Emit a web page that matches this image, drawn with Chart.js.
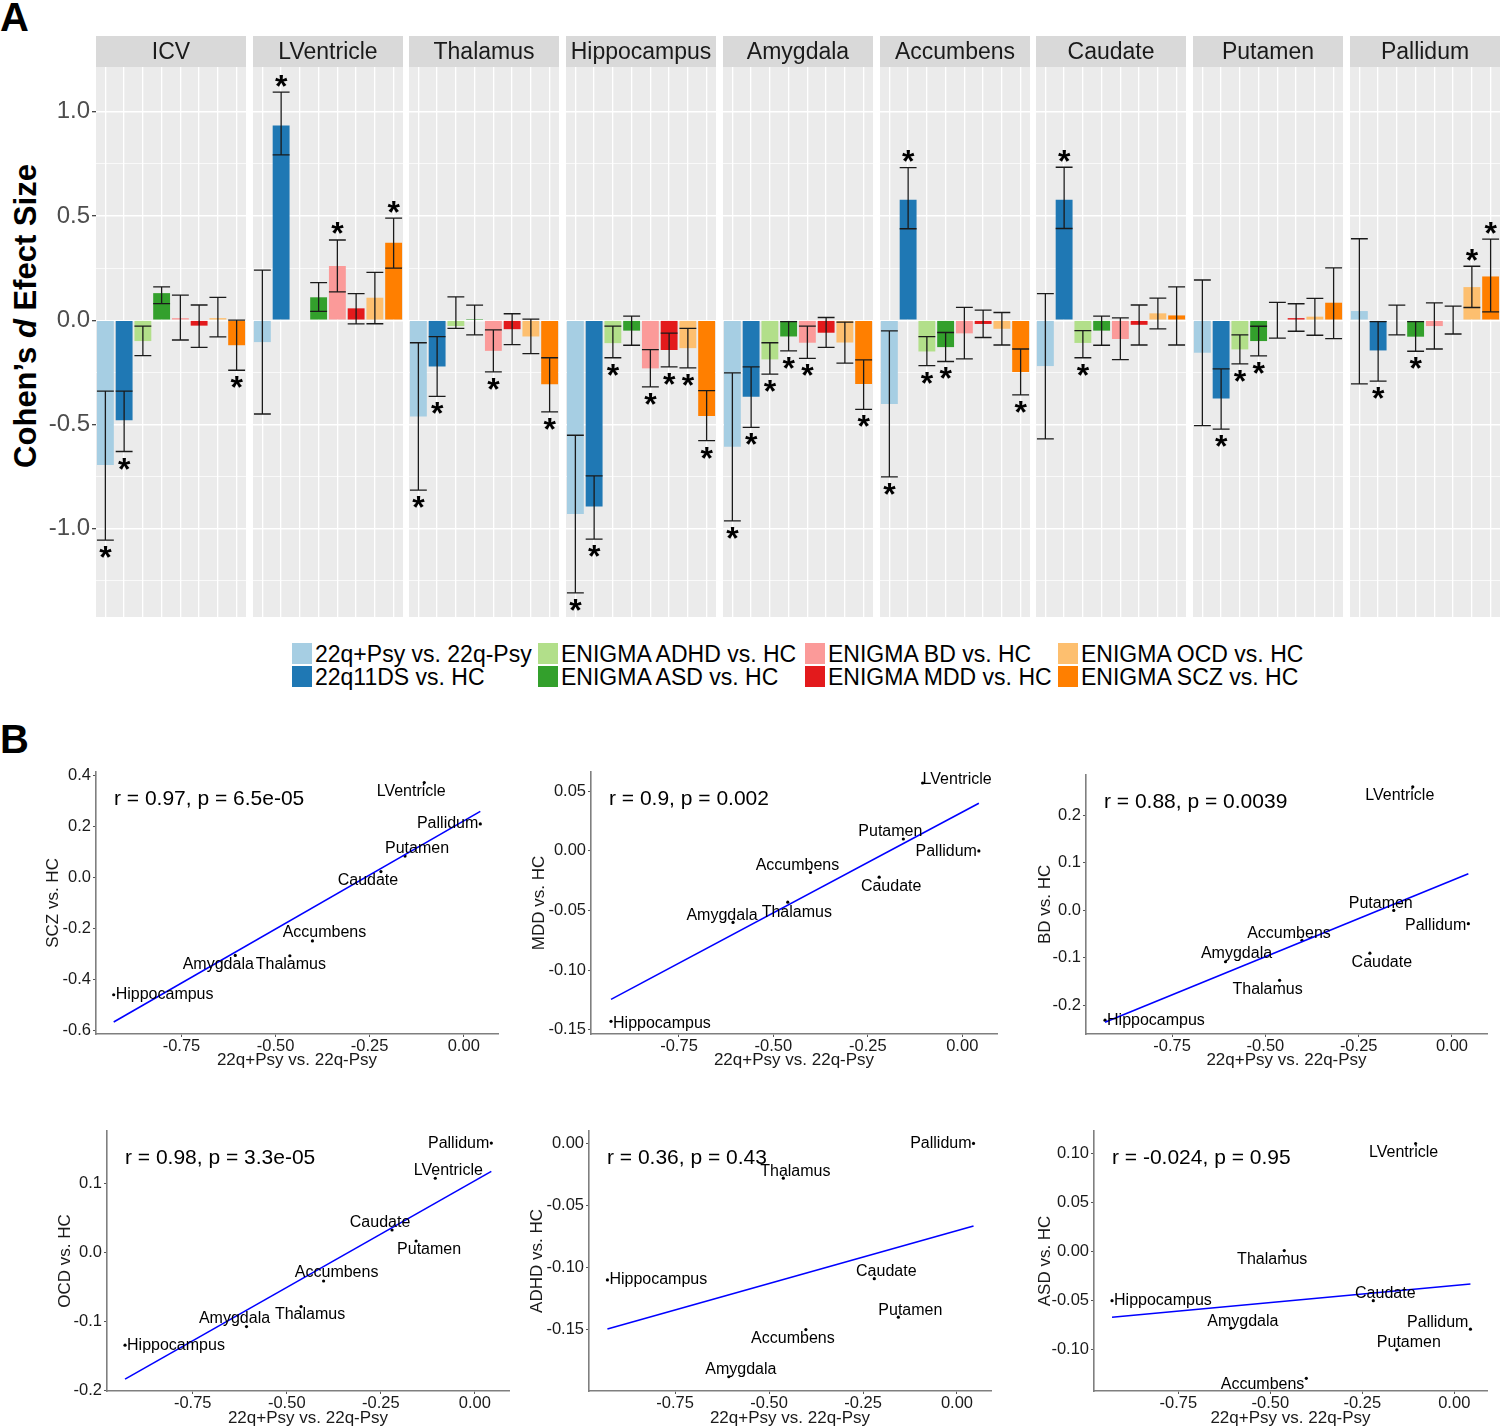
<!DOCTYPE html>
<html>
<head>
<meta charset="utf-8">
<script src="https://cdn.jsdelivr.net/npm/chart.js@4.4.1/dist/chart.umd.min.js"></script>
<style>
body { margin: 0; background: #fff; font-family: "Liberation Sans", Arial, sans-serif; }
#page { position: relative; width: 1500px; height: 1428px; overflow: hidden; background: #fff; }
canvas { position: absolute; }
.txt { position: absolute; white-space: nowrap; color: #000; }
.panel { font-weight: bold; font-size: 40px; }
.ytitle { font-weight: bold; font-size: 31px; transform: translate(-50%, -50%) rotate(-90deg); }
.key { position: absolute; width: 20px; height: 21px; }
.legtxt { position: absolute; font-size: 23px; line-height: 21px; white-space: nowrap; color: #000; }
</style>
</head>
<body>
<div id="page">
  <div class="txt panel" style="left:0px; top:-5px;">A</div>
  <div class="txt panel" style="left:0px; top:717px;">B</div>
  <div class="txt ytitle" style="left:26px; top:316px;">Cohen’s <i>d</i> Efect Size</div>
</div>
<script>
Chart.defaults.font.family = '"Liberation Sans", Arial, sans-serif';

// ---- data ----
const regions = ['ICV', 'LVentricle', 'Thalamus', 'Hippocampus', 'Amygdala', 'Accumbens', 'Caudate', 'Putamen', 'Pallidum'];
const groups = ['22q+Psy vs. 22q-Psy', '22q11DS vs. HC', 'ENIGMA ADHD vs. HC', 'ENIGMA ASD vs. HC',
                'ENIGMA BD vs. HC', 'ENIGMA MDD vs. HC', 'ENIGMA OCD vs. HC', 'ENIGMA SCZ vs. HC'];
const colors = ['#A6CEE3', '#1F78B4', '#B2DF8A', '#33A02C', '#FB9A99', '#E31A1C', '#FDBF6F', '#FF7F00'];

// Cohen's d per region (same order as regions)
const psyD  = [-0.695, -0.105, -0.462, -0.930, -0.607, -0.402, -0.220, -0.156, 0.044];
const delD  = [-0.480, 0.934, -0.222, -0.894, -0.367, 0.578, 0.578, -0.376, -0.145];
const adhdD = [-0.100, null, -0.028, -0.110, -0.188, -0.150, -0.109, -0.140, 0.000];
const asdD  = [0.130, 0.110, 0.001, -0.050, -0.078, -0.129, -0.050, -0.100, -0.079];
const bdD   = [0.010, 0.260, -0.147, -0.231, -0.108, -0.063, -0.090, 0.000, -0.028];
const mddD  = [-0.026, 0.057, -0.043, -0.143, -0.060, -0.018, -0.022, 0.010, 0.000];
const ocdD  = [0.010, 0.108, -0.078, -0.134, -0.107, -0.041, 0.033, 0.017, 0.159];
const sczD  = [-0.120, 0.372, -0.307, -0.460, -0.306, -0.249, 0.023, 0.084, 0.210];

// error bar limits
const psyLo  = [-1.055, -0.450, -0.815, -1.308, -0.963, -0.752, -0.569, -0.506, -0.305];
const psyHi  = [-0.340, 0.240, -0.108, -0.552, -0.253, -0.051, 0.128, 0.193, 0.391];
const delLo  = [-0.630, 0.793, -0.365, -1.050, -0.514, 0.439, 0.440, -0.523, -0.292];
const delHi  = [-0.340, 1.094, -0.079, -0.747, -0.224, 0.732, 0.734, -0.233, -0.007];
const adhdLo = [-0.170, null, -0.039, -0.180, -0.259, -0.218, -0.180, -0.209, -0.070];
const adhdHi = [-0.028, null, 0.112, -0.028, -0.108, -0.079, -0.050, -0.070, 0.072];
const asdLo  = [0.080, 0.042, -0.070, -0.120, -0.147, -0.198, -0.120, -0.171, -0.149];
const asdHi  = [0.160, 0.180, 0.072, 0.020, -0.007, -0.059, 0.020, -0.029, -0.007];
const bdLo   = [-0.095, 0.136, -0.248, -0.320, -0.183, -0.185, -0.189, -0.086, -0.138];
const bdHi   = [0.120, 0.385, -0.046, -0.141, -0.028, 0.062, 0.011, 0.086, 0.083];
const mddLo  = [-0.130, -0.018, -0.117, -0.224, -0.130, -0.083, -0.119, -0.053, -0.066];
const mddHi  = [0.073, 0.128, 0.031, -0.062, 0.013, 0.048, 0.073, 0.079, 0.068];
const ocdLo  = [-0.080, -0.017, -0.160, -0.229, -0.206, -0.119, -0.042, -0.072, 0.061];
const ocdHi  = [0.110, 0.230, 0.005, -0.039, -0.009, 0.037, 0.106, 0.105, 0.259];
const sczLo  = [-0.240, 0.250, -0.440, -0.578, -0.428, -0.358, -0.119, -0.088, 0.040];
const sczHi  = [0.000, 0.490, -0.180, -0.338, -0.190, -0.138, 0.160, 0.251, 0.389];

// significance (asterisk)
const psySig  = [1, 0, 1, 1, 1, 1, 0, 0, 0];
const delSig  = [1, 1, 1, 1, 1, 1, 1, 1, 1];
const adhdSig = [0, 0, 0, 1, 1, 1, 1, 1, 0];
const asdSig  = [0, 0, 0, 0, 1, 1, 0, 1, 1];
const bdSig   = [0, 1, 1, 1, 1, 0, 0, 0, 0];
const mddSig  = [0, 0, 0, 1, 0, 0, 0, 0, 0];
const ocdSig  = [0, 0, 0, 1, 0, 0, 0, 0, 1];
const sczSig  = [1, 1, 1, 1, 1, 1, 0, 0, 1];

const barTicks = [-1.25, -1, -0.75, -0.5, -0.25, 0, 0.25, 0.5, 0.75, 1];

// scatter panel ticks
const xTicksB = [-0.75, -0.5, -0.25, 0];
const sczTicks  = [-0.6, -0.4, -0.2, 0, 0.2, 0.4];
const mddTicks  = [-0.15, -0.1, -0.05, 0, 0.05];
const bdTicks   = [-0.2, -0.1, 0, 0.1, 0.2];
const ocdTicks  = [-0.2, -0.1, 0, 0.1];
const adhdTicks = [-0.15, -0.1, -0.05, 0];
const asdTicks  = [-0.1, -0.05, 0, 0.05, 0.1];

const effects = [psyD, delD, adhdD, asdD, bdD, mddD, ocdD, sczD];
const lows = [psyLo, delLo, adhdLo, asdLo, bdLo, mddLo, ocdLo, sczLo];
const highs = [psyHi, delHi, adhdHi, asdHi, bdHi, mddHi, ocdHi, sczHi];
const sigs = [psySig, delSig, adhdSig, asdSig, bdSig, mddSig, ocdSig, sczSig];

const page = document.getElementById('page');
const FONT = '"Liberation Sans", Arial, sans-serif';

// ---- panel A: facets ----
const stripPlugin = {
  id: 'strip',
  beforeDraw(chart, args, opts) {
    const { ctx, chartArea: a } = chart;
    ctx.save();
    ctx.fillStyle = '#EBEBEB';
    ctx.fillRect(a.left, a.top, a.right - a.left, a.bottom - a.top);
    ctx.fillStyle = '#D9D9D9';
    ctx.fillRect(a.left, a.top - 31, a.right - a.left, 31);
    ctx.fillStyle = '#1A1A1A';
    ctx.font = '23px ' + FONT;
    ctx.textAlign = 'center';
    ctx.textBaseline = 'middle';
    ctx.fillText(opts.text, (a.left + a.right) / 2, a.top - 14);
    ctx.restore();
  }
};

const errPlugin = {
  id: 'errbars',
  afterDatasetsDraw(chart, args, opts) {
    const { ctx, scales: { x, y } } = chart;
    const half = 0.45 * (x.getPixelForValue(1) - x.getPixelForValue(0));
    ctx.save();
    ctx.strokeStyle = '#1A1A1A';
    ctx.lineWidth = 1.3;
    opts.lo.forEach((lo, j) => {
      const hi = opts.hi[j];
      if (lo == null || hi == null) return;
      const cx = x.getPixelForValue(j);
      const y0 = y.getPixelForValue(lo), y1 = y.getPixelForValue(hi);
      ctx.beginPath();
      ctx.moveTo(cx, y0); ctx.lineTo(cx, y1);
      ctx.moveTo(cx - half, y0); ctx.lineTo(cx + half, y0);
      ctx.moveTo(cx - half, y1); ctx.lineTo(cx + half, y1);
      ctx.stroke();
    });
    // asterisks
    ctx.fillStyle = '#000';
    ctx.font = 'bold 32px ' + FONT;
    ctx.textAlign = 'center';
    ctx.textBaseline = 'alphabetic';
    const m = ctx.measureText('*');
    const shift = (m.actualBoundingBoxAscent - m.actualBoundingBoxDescent) / 2;
    opts.sig.forEach((s, j) => {
      if (!s) return;
      const cx = x.getPixelForValue(j);
      const cy = opts.d[j] >= 0 ? y.getPixelForValue(opts.hi[j]) - 11.5 : y.getPixelForValue(opts.lo[j]) + 12;
      ctx.fillText('*', cx, cy + shift);
    });
    ctx.restore();
  }
};

const isMajor = v => Math.abs(v * 2 - Math.round(v * 2)) < 1e-6;

regions.forEach((reg, i) => {
  const left = Math.round(96 + i * 156.7);
  const axisW = i === 0 ? 56 : 0;
  const cv = document.createElement('canvas');
  cv.width = 150 + axisW;
  cv.height = 581;
  cv.style.left = (left - axisW) + 'px';
  cv.style.top = '36px';
  page.appendChild(cv);
  new Chart(cv, {
    type: 'bar',
    data: {
      labels: groups,
      datasets: [{
        data: effects.map(a => a[i]),
        backgroundColor: colors,
        barPercentage: 0.9,
        categoryPercentage: 1
      }]
    },
    options: {
      responsive: false,
      animation: false,
      layout: { padding: { top: 31, left: 0, right: 0, bottom: 0 } },
      plugins: {
        legend: { display: false },
        tooltip: { enabled: false },
        strip: { text: reg },
        errbars: {
          lo: lows.map(a => a[i]), hi: highs.map(a => a[i]),
          sig: sigs.map(a => a[i]), d: effects.map(a => a[i])
        }
      },
      scales: {
        x: {
          offset: true,
          grid: { offset: false, color: '#FFFFFF', lineWidth: 1.3, drawTicks: false },
          border: { display: false },
          ticks: { display: false },
          afterFit: s => { s.height = 0; s.paddingLeft = 0; s.paddingRight = 0; }
        },
        y: {
          min: -1.424, max: 1.215,
          afterBuildTicks: s => { s.ticks = barTicks.map(v => ({ value: v })); },
          grid: {
            color: '#FFFFFF',
            lineWidth: c => (c.tick && isMajor(c.tick.value)) ? 1.4 : 0.7,
            drawTicks: i === 0,
            tickLength: 4,
            tickWidth: 1.2,
            tickColor: c => (c.tick && isMajor(c.tick.value)) ? '#333333' : 'rgba(0,0,0,0)'
          },
          border: { display: false },
          ticks: {
            display: i === 0,
            padding: 2,
            color: '#4D4D4D',
            font: { size: 24 },
            callback: v => isMajor(v) ? v.toFixed(1) : ''
          },
          afterFit: s => { s.width = axisW; s.paddingTop = 0; s.paddingBottom = 0; }
        }
      }
    },
    plugins: [stripPlugin, errPlugin]
  });
});

// legend (2 rows x 4 columns)
const legCols = [292, 538, 805, 1058];
const legRows = [643, 666];
groups.forEach((g, k) => {
  const col = Math.floor(k / 2), row = k % 2;
  const key = document.createElement('div');
  key.className = 'key';
  key.style.left = legCols[col] + 'px';
  key.style.top = legRows[row] + 'px';
  key.style.background = colors[k];
  page.appendChild(key);
  const t = document.createElement('div');
  t.className = 'legtxt';
  t.style.left = (legCols[col] + 23) + 'px';
  t.style.top = (legRows[row] + 1) + 'px';
  t.textContent = g;
  page.appendChild(t);
});

// ---- panel B: scatter plots ----
const scatterNames = regions.slice(1);

// label placement per plot: [align, dx, dy]  (c = centred, l = right of point, r = left of point)
const labelPos = [
  { LVentricle: ['c', -13, 9], Pallidum: ['r', 0, 0], Putamen: ['c', 12, -7], Caudate: ['c', -13, 9],
    Accumbens: ['c', 12, -8], Amygdala: ['c', -17, 9], Thalamus: ['c', 1, 9], Hippocampus: ['l', 0, 0] },
  { LVentricle: ['l', -2, -3], Putamen: ['c', -13, -7], Pallidum: ['r', 0, 1], Accumbens: ['c', -13, -7],
    Caudate: ['c', 12, 9], Thalamus: ['c', 9, 10], Amygdala: ['c', -11, -7], Hippocampus: ['l', 0, 2] },
  { LVentricle: ['c', -13, 9], Putamen: ['c', -13, -7], Pallidum: ['r', 0, 2], Accumbens: ['c', -13, -7],
    Amygdala: ['c', 11, -8], Caudate: ['c', 12, 9], Thalamus: ['c', -12, 9], Hippocampus: ['l', 0, 0] },
  { Pallidum: ['r', 0, 0], LVentricle: ['c', 13, -8], Caudate: ['c', -12, -7], Putamen: ['c', 13, 9],
    Accumbens: ['c', 13, -8], Thalamus: ['c', 9, 8], Amygdala: ['c', -12, -8], Hippocampus: ['l', 0, 0] },
  { Pallidum: ['r', 0, 0], Thalamus: ['c', 12, -7], Hippocampus: ['l', 0, 0], Caudate: ['c', 12, -7],
    Putamen: ['c', 12, -7], Accumbens: ['c', -13, 9], Amygdala: ['c', 12, -7] },
  { LVentricle: ['c', -12, 9], Thalamus: ['c', -12, 9], Hippocampus: ['l', 0, 0], Caudate: ['c', 12, -7],
    Amygdala: ['c', 12, -7], Pallidum: ['r', 0, -7], Putamen: ['c', 12, -7], Accumbens: ['r', 0, 6] }
];

const scatterLayout = [
  { ys: sczD,  title: 'SCZ vs. HC',  stat: 'r = 0.97, p = 6.5e-05',  ticks: sczTicks,  dec: 1, yMin: -0.614, yMax: 0.414,  xMin: -0.977, xMax: 0.091, rect: [96, 768, 498, 1034],   yOff: 43, xBottom: 1071 },
  { ys: mddD,  title: 'MDD vs. HC',  stat: 'r = 0.9, p = 0.002',     ticks: mddTicks,  dec: 2, yMin: -0.1536, yMax: 0.0663, xMin: -0.983, xMax: 0.092, rect: [591, 768, 997, 1034],  yOff: 52, xBottom: 1071 },
  { ys: bdD,   title: 'BD vs. HC',   stat: 'r = 0.88, p = 0.0039',   ticks: bdTicks,   dec: 1, yMin: -0.26, yMax: 0.285,   xMin: -0.981, xMax: 0.094, rect: [1086, 771, 1487, 1034], yOff: 41, xBottom: 1071 },
  { ys: ocdD,  title: 'OCD vs. HC',  stat: 'r = 0.98, p = 3.3e-05',  ticks: ocdTicks,  dec: 1, yMin: -0.2005, yMax: 0.1767, xMin: -0.978, xMax: 0.091, rect: [107, 1127, 509, 1391], yOff: 42, xBottom: 1429 },
  { ys: adhdD, title: 'ADHD vs. HC', stat: 'r = 0.36, p = 0.43',     ticks: adhdTicks, dec: 2, yMin: -0.1995, yMax: 0.0101, xMin: -0.979, xMax: 0.0905, rect: [589, 1127, 991, 1391], yOff: 52, xBottom: 1429 },
  { ys: asdD,  title: 'ASD vs. HC',  stat: 'r = -0.024, p = 0.95',   ticks: asdTicks,  dec: 2, yMin: -0.1419, yMax: 0.1228, xMin: -0.979, xMax: 0.089, rect: [1094, 1127, 1487, 1391], yOff: 49, xBottom: 1429 }
];

function fitLine(xs, ys) {
  const n = xs.length;
  const mx = xs.reduce((a, b) => a + b, 0) / n;
  const my = ys.reduce((a, b) => a + b, 0) / n;
  let sxy = 0, sxx = 0;
  xs.forEach((x, k) => { sxy += (x - mx) * (ys[k] - my); sxx += (x - mx) * (x - mx); });
  const b = sxy / sxx;
  const x0 = Math.min(...xs), x1 = Math.max(...xs);
  return [{ x: x0, y: my + b * (x0 - mx) }, { x: x1, y: my + b * (x1 - mx) }];
}

const labelPlugin = {
  id: 'ptlabels',
  afterDatasetsDraw(chart, args, opts) {
    const { ctx, chartArea: a } = chart;
    const meta = chart.getDatasetMeta(1);
    ctx.save();
    ctx.fillStyle = '#000';
    ctx.font = '16px ' + FONT;
    ctx.textBaseline = 'middle';
    meta.data.forEach((pt, k) => {
      const name = opts.names[k];
      const p = opts.pos[name] || ['c', 0, 0];
      let tx = pt.x + p[1];
      if (p[0] === 'l') { ctx.textAlign = 'left'; tx = pt.x + 2 + p[1]; }
      else if (p[0] === 'r') { ctx.textAlign = 'right'; tx = pt.x - 2 + p[1]; }
      else ctx.textAlign = 'center';
      ctx.fillText(name, tx, pt.y + p[2]);
    });
    ctx.font = '21px ' + FONT;
    ctx.textAlign = 'left';
    ctx.fillText(opts.stat, a.left + 18, a.top + 27);
    ctx.restore();
  }
};

scatterLayout.forEach((sp, n) => {
  const [l, t, r, b] = sp.rect;
  const axisW = Math.round(sp.yOff + 10);
  const cLeft = l - axisW, cTop = t - 8;
  const cv = document.createElement('canvas');
  cv.width = (r + 6) - cLeft;
  cv.height = sp.xBottom - cTop;
  cv.style.left = cLeft + 'px';
  cv.style.top = cTop + 'px';
  page.appendChild(cv);

  const names = [], xs = [], ys = [];
  scatterNames.forEach((nm, k) => {
    const v = sp.ys[k + 1];
    if (v == null) return;
    names.push(nm); xs.push(psyD[k + 1]); ys.push(v);
  });
  const pts = xs.map((x, k) => ({ x: x, y: ys[k] }));

  new Chart(cv, {
    type: 'scatter',
    data: {
      datasets: [
        { data: fitLine(xs, ys), showLine: true, borderColor: '#0000FF', borderWidth: 1.6, pointRadius: 0, fill: false },
        { data: pts, backgroundColor: '#000', borderColor: '#000', pointRadius: 1.6, borderWidth: 0 }
      ]
    },
    options: {
      responsive: false,
      animation: false,
      layout: { padding: { top: 8, right: 6, left: 0, bottom: 0 } },
      plugins: {
        legend: { display: false },
        tooltip: { enabled: false },
        ptlabels: { names: names, pos: labelPos[n], stat: sp.stat }
      },
      scales: {
        x: {
          type: 'linear', min: sp.xMin, max: sp.xMax,
          afterBuildTicks: s => { s.ticks = xTicksB.map(v => ({ value: v })); },
          grid: { drawOnChartArea: false, drawTicks: true, tickLength: 3, tickColor: '#555', tickWidth: 1 },
          border: { display: true, color: '#7F7F7F', width: 1.6 },
          ticks: { color: '#1A1A1A', font: { size: 16.5 }, padding: 0, maxRotation: 0, autoSkip: false, callback: v => v.toFixed(2) },
          title: { display: true, text: '22q+Psy vs. 22q-Psy', color: '#1A1A1A', font: { size: 17 }, padding: 0 },
          afterFit: s => { s.height = sp.xBottom - b; }
        },
        y: {
          type: 'linear', min: sp.yMin, max: sp.yMax,
          afterBuildTicks: s => { s.ticks = sp.ticks.map(v => ({ value: v })); },
          grid: { drawOnChartArea: false, drawTicks: true, tickLength: 3, tickColor: '#555', tickWidth: 1 },
          border: { display: true, color: '#7F7F7F', width: 1.6 },
          ticks: { color: '#1A1A1A', font: { size: 16.5 }, padding: 2, autoSkip: false, callback: v => v.toFixed(sp.dec) },
          title: { display: true, text: sp.title, color: '#1A1A1A', font: { size: 17 }, padding: 0 },
          afterFit: s => { s.width = axisW; }
        }
      }
    },
    plugins: [labelPlugin]
  });
});
</script>
</body>
</html>
